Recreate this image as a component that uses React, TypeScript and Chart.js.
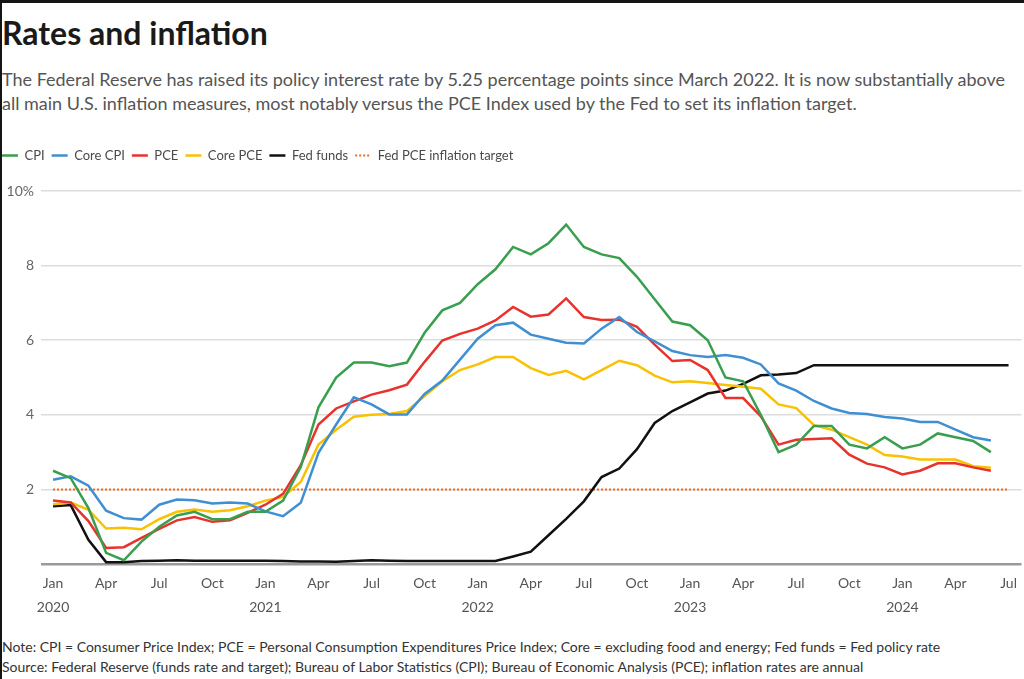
import React, { useEffect, useRef } from "react";
import { Chart, registerables } from "chart.js";

Chart.register(...registerables);

const months: string[] = [];
const years = ["2020", "2021", "2022", "2023", "2024"];
const monthNames = ["Jan", "Feb", "Mar", "Apr", "May", "Jun", "Jul", "Aug", "Sep", "Oct", "Nov", "Dec"];
for (const y of years) for (const m of monthNames) months.push(`${m} ${y}`);
const categories = months.slice(0, 55); // Jan 2020 .. Jul 2024

const cpi = [2.5, 2.3, 1.5, 0.3, 0.1, 0.6, 1.0, 1.3, 1.4, 1.2, 1.2, 1.4, 1.4, 1.7, 2.6, 4.2, 5.0, 5.4, 5.4, 5.3, 5.4, 6.2, 6.8, 7.0, 7.5, 7.9, 8.5, 8.3, 8.6, 9.1, 8.5, 8.3, 8.2, 7.7, 7.1, 6.5, 6.4, 6.0, 5.0, 4.9, 4.0, 3.0, 3.2, 3.7, 3.7, 3.2, 3.1, 3.4, 3.1, 3.2, 3.5, 3.4, 3.3, 3.0];
const coreCpi = [2.26, 2.35, 2.1, 1.43, 1.23, 1.19, 1.59, 1.73, 1.71, 1.62, 1.65, 1.62, 1.41, 1.28, 1.64, 2.98, 3.74, 4.47, 4.28, 4.01, 4.01, 4.56, 4.92, 5.48, 6.04, 6.4, 6.47, 6.15, 6.04, 5.93, 5.91, 6.31, 6.62, 6.22, 5.97, 5.71, 5.6, 5.55, 5.6, 5.53, 5.35, 4.84, 4.65, 4.37, 4.17, 4.05, 4.02, 3.94, 3.9, 3.81, 3.81, 3.6, 3.4, 3.31];
const pce = [1.7, 1.65, 1.15, 0.43, 0.45, 0.7, 0.94, 1.17, 1.26, 1.13, 1.17, 1.37, 1.59, 1.88, 2.65, 3.74, 4.17, 4.36, 4.54, 4.66, 4.81, 5.42, 5.99, 6.17, 6.31, 6.53, 6.89, 6.63, 6.69, 7.12, 6.62, 6.54, 6.55, 6.36, 5.88, 5.44, 5.47, 5.2, 4.45, 4.45, 3.96, 3.2, 3.33, 3.35, 3.37, 2.93, 2.69, 2.59, 2.4, 2.5, 2.7, 2.7, 2.59, 2.5];
const corePce = [1.6, 1.65, 1.45, 0.95, 0.97, 0.93, 1.2, 1.4, 1.46, 1.4, 1.44, 1.55, 1.7, 1.8, 2.2, 3.2, 3.6, 3.95, 4.0, 4.02, 4.1, 4.5, 4.9, 5.2, 5.35, 5.55, 5.55, 5.25, 5.07, 5.18, 4.95, 5.2, 5.45, 5.33, 5.05, 4.87, 4.9, 4.85, 4.8, 4.75, 4.7, 4.28, 4.18, 3.72, 3.6, 3.4, 3.2, 2.92, 2.88, 2.8, 2.8, 2.8, 2.62, 2.58];
const fedFunds = [1.55, 1.58, 0.65, 0.05, 0.05, 0.08, 0.09, 0.1, 0.09, 0.09, 0.09, 0.09, 0.09, 0.08, 0.07, 0.07, 0.06, 0.08, 0.1, 0.09, 0.08, 0.08, 0.08, 0.08, 0.08, 0.08, 0.2, 0.33, 0.77, 1.21, 1.68, 2.33, 2.56, 3.08, 3.78, 4.1, 4.33, 4.57, 4.65, 4.83, 5.06, 5.08, 5.12, 5.33, 5.33, 5.33, 5.33, 5.33, 5.33, 5.33, 5.33, 5.33, 5.33, 5.33, 5.33];
const target = categories.map(() => 2);

const yTicks = [0, 2, 4, 6, 8, 10];
const xTickIndices = [0, 3, 6, 9, 12, 15, 18, 21, 24, 27, 30, 33, 36, 39, 42, 45, 48, 51, 54];

const toPoints = (arr: number[]) => arr.map((v, i) => ({ x: i, y: v }));

const FONT = "Lato, 'Noto Sans', sans-serif";

const legendTweak = {
  id: "legendTweak",
  beforeUpdate(chart: any) {
    const lg: any = chart.legend;
    if (lg && !lg._patched) {
      lg._patched = true;
      const fit = lg.fit.bind(lg);
      lg.fit = function () {
        fit();
        this.height += 22;
      };
      const draw = lg.draw.bind(lg);
      lg.draw = function () {
        const ctx = this.ctx;
        ctx.save();
        ctx.translate(-5, 3);
        draw();
        ctx.restore();
      };
    }
  },
};

export default function App() {
  const ref = useRef<HTMLCanvasElement>(null);

  useEffect(() => {
    if (!ref.current) return;
    const common = { pointRadius: 0, borderWidth: 2.5, tension: 0, fill: false };
    const chart = new Chart(ref.current, {
      type: "line",
      data: {
        datasets: [
          { label: "CPI", data: toPoints(cpi), borderColor: "#3a9e4f", backgroundColor: "#3a9e4f", ...common },
          { label: "Core CPI", data: toPoints(coreCpi), borderColor: "#3f8fd2", backgroundColor: "#3f8fd2", ...common },
          { label: "PCE", data: toPoints(pce), borderColor: "#e8322c", backgroundColor: "#e8322c", ...common },
          { label: "Core PCE", data: toPoints(corePce), borderColor: "#f9c100", backgroundColor: "#f9c100", ...common },
          { label: "Fed funds", data: toPoints(fedFunds), borderColor: "#111111", backgroundColor: "#111111", ...common },
          {
            label: "Fed PCE inflation target",
            data: toPoints(target),
            borderColor: "#f26a21",
            backgroundColor: "#f26a21",
            ...common,
            borderWidth: 2,
            borderDash: [2, 2],
          },
        ],
      },
      options: {
        animation: false,
        responsive: true,
        maintainAspectRatio: false,
        layout: { padding: { left: 0, right: 2, top: 0, bottom: 0 } },
        plugins: {
          tooltip: { enabled: false },
          legend: {
            position: "top",
            align: "start",
            labels: {
              usePointStyle: true,
              pointStyle: "line",
              pointStyleWidth: 16,
              boxHeight: 13,
              padding: 7,
              color: "#4a4a4a",
              font: { family: FONT, size: 13 },
              generateLabels: (ch: any) => {
                const items = (Chart.defaults.plugins.legend.labels as any).generateLabels(ch);
                items.forEach((it: any) => {
                  const ds: any = ch.data.datasets[it.datasetIndex];
                  it.lineWidth = ds.borderWidth;
                  it.lineDash = ds.borderDash || [];
                  it.strokeStyle = ds.borderColor;
                  it.fillStyle = ds.borderColor;
                });
                return items;
              },
            },
          },
        },
        scales: {
          x: {
            type: "linear",
            min: -0.68,
            max: 54.73,
            afterBuildTicks: (scale: any) => {
              scale.ticks = xTickIndices.map((v) => ({ value: v }));
            },
            afterFit: (scale: any) => {
              scale.height = 59;
            },
            grid: { display: false, drawTicks: false },
            border: { display: false },
            ticks: {
              autoSkip: false,
              maxRotation: 0,
              padding: 7,
              color: "#555",
              font: { family: FONT, size: 14, lineHeight: 1.72 },
              callback: (v: any) => {
                const label = categories[Number(v)];
                if (!label) return "";
                const [m, y] = label.split(" ");
                return m === "Jan" ? [m, y] : m;
              },
            },
          },
          y: {
            min: 0,
            max: 10,
            afterBuildTicks: (scale: any) => {
              scale.ticks = yTicks.map((v) => ({ value: v }));
            },
            afterFit: (scale: any) => {
              scale.width = 41;
            },
            border: { display: false },
            grid: {
              drawTicks: false,
              color: (c: any) => (c.tick && c.tick.value === 0 ? "#9a9a9a" : "#dddddd"),
              lineWidth: (c: any) => (c.tick && c.tick.value === 0 ? 2.5 : 1.5),
            },
            ticks: {
              padding: 7,
              color: "#666",
              font: { family: FONT, size: 14 },
              callback: (v: any) => (v === 10 ? "10%" : v === 0 ? "" : String(v)),
            },
          },
        },
      },
      plugins: [legendTweak],
    } as any);
    return () => chart.destroy();
  }, []);

  return (
    <div
      style={{
        position: "absolute",
        left: 0,
        top: 0,
        width: 1024,
        height: 679,
        background: "#fff",
        boxSizing: "border-box",
        borderTop: "3px solid #141414",
        borderLeft: "2px solid #141414",
        fontFamily: FONT,
        overflow: "hidden",
      }}
    >
      <div
        style={{
          position: "absolute",
          left: 0,
          top: 10,
          fontSize: 32,
          fontWeight: 700,
          color: "#1a1a1a",
          whiteSpace: "nowrap",
          lineHeight: "40px",
        }}
      >
        Rates and inflation
      </div>
      <div
        style={{
          position: "absolute",
          left: 0,
          top: 64,
          fontSize: 18,
          color: "#555",
          lineHeight: "24px",
          whiteSpace: "nowrap",
        }}
      >
        The Federal Reserve has raised its policy interest rate by 5.25 percentage points since March 2022. It is now substantially above
        <br />
        all main U.S. inflation measures, most notably versus the PCE Index used by the Fed to set its inflation target.
      </div>
      <div style={{ position: "absolute", left: -2, top: 136, width: 1024, height: 484 }}>
        <canvas ref={ref} />
      </div>
      <div
        style={{
          position: "absolute",
          left: 0,
          top: 634,
          fontSize: 14,
          color: "#333",
          lineHeight: "20px",
          whiteSpace: "nowrap",
        }}
      >
        Note: CPI = Consumer Price Index; PCE = Personal Consumption Expenditures Price Index; Core = excluding food and energy; Fed funds = Fed policy rate
        <br />
        Source: Federal Reserve (funds rate and target); Bureau of Labor Statistics (CPI); Bureau of Economic Analysis (PCE); inflation rates are annual
      </div>
    </div>
  );
}
